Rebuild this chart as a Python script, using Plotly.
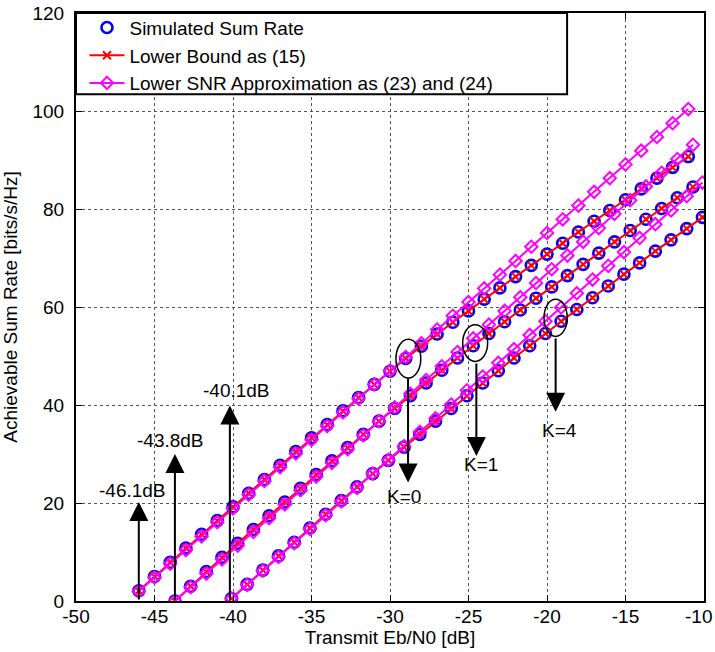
import plotly.graph_objects as go

# ---------------- data ----------------
x_k0 = [-46, -45, -44, -43, -42, -41, -40, -39, -38, -37, -36, -35, -34, -33, -32, -31, -30, -29,
        -28, -27, -26, -25, -24, -23, -22, -21, -20, -19, -18, -17, -16, -15, -14, -13, -12, -11]
sim_k0 = [2.1, 5.0, 7.9, 10.8, 13.6, 16.4, 19.2, 22.0, 24.8, 27.7, 30.5, 33.3, 36.0, 38.8, 41.5, 44.2,
          46.9, 49.5, 52.0, 54.5, 56.9, 59.2, 61.6, 63.9, 66.2, 68.5, 70.8, 73.0, 75.3, 77.5, 79.7,
          81.9, 84.1, 86.3, 88.5, 90.7]
lb_k0 = [2.1, 5.0, 7.9, 10.8, 13.6, 16.4, 19.2, 22.0, 24.8, 27.7, 30.5, 33.3, 36.0, 38.8, 41.5, 44.2,
         46.9, 49.5, 52.0, 54.5, 56.9, 59.2, 61.6, 63.9, 66.2, 68.5, 70.8, 73.0, 75.3, 77.5, 79.7,
         81.9, 84.1, 86.3, 88.5, 90.7]
apx_k0 = [2.0, 4.8, 7.6, 10.4, 13.2, 16.1, 18.9, 21.7, 24.5, 27.3, 30.1, 32.9, 35.7, 38.5, 41.3, 44.2,
          47.0, 49.8, 52.6, 55.4, 58.2, 61.0, 63.8, 66.6, 69.4, 72.3, 75.1, 77.9, 80.7, 83.5, 86.3,
          89.1, 91.9, 94.7, 97.5, 100.4]

x_k1 = [-43.7, -42.7, -41.7, -40.7, -39.7, -38.7, -37.7, -36.7, -35.7, -34.7, -33.7, -32.7, -31.7,
        -30.7, -29.7, -28.7, -27.7, -26.7, -25.7, -24.7, -23.7, -22.7, -21.7, -20.7, -19.7, -18.7,
        -17.7, -16.7, -15.7, -14.7, -13.7, -12.7, -11.7, -10.7]
sim_k1 = [0.0, 3.0, 6.0, 8.9, 11.8, 14.6, 17.4, 20.2, 23.0, 25.8, 28.6, 31.3, 34.0, 36.7, 39.3, 41.9,
          44.5, 47.1, 49.6, 52.1, 54.6, 57.0, 59.4, 61.8, 64.1, 66.4, 68.7, 71.0, 73.3, 75.6, 77.9,
          80.1, 82.3, 84.5]
lb_k1 = [0.0, 3.0, 6.0, 8.9, 11.8, 14.6, 17.4, 20.2, 23.0, 25.8, 28.6, 31.3, 34.0, 36.7, 39.3, 41.9,
         44.5, 47.1, 49.6, 52.1, 54.6, 57.0, 59.4, 61.8, 64.1, 66.4, 68.7, 71.0, 73.3, 75.6, 77.9,
         80.1, 82.3, 84.5]
apx_k1 = [0.0, 2.8, 5.6, 8.5, 11.3, 14.1, 16.9, 19.7, 22.6, 25.4, 28.2, 31.0, 33.8, 36.7, 39.5, 42.3,
          45.1, 47.9, 50.8, 53.6, 56.4, 59.2, 62.0, 64.9, 67.7, 70.5, 73.3, 76.1, 79.0, 81.8, 84.6,
          87.4, 90.2, 93.1]

x_k4 = [-40.1, -39.1, -38.1, -37.1, -36.1, -35.1, -34.1, -33.1, -32.1, -31.1, -30.1, -29.1, -28.1,
        -27.1, -26.1, -25.1, -24.1, -23.1, -22.1, -21.1, -20.1, -19.1, -18.1, -17.1, -16.1, -15.1,
        -14.1, -13.1, -12.1, -11.1, -10.1]
sim_k4 = [0.5, 3.4, 6.3, 9.2, 12.0, 14.9, 17.7, 20.5, 23.3, 26.0, 28.7, 31.4, 34.0, 36.7, 39.3, 41.9,
          44.5, 47.0, 49.6, 52.1, 54.6, 57.1, 59.5, 61.9, 64.3, 66.7, 69.0, 71.4, 73.7, 76.0, 78.3]
lb_k4 = [0.5, 3.4, 6.3, 9.2, 12.0, 14.9, 17.7, 20.5, 23.3, 26.0, 28.7, 31.4, 34.0, 36.7, 39.3, 41.9,
         44.5, 47.0, 49.6, 52.1, 54.6, 57.1, 59.5, 61.9, 64.3, 66.7, 69.0, 71.4, 73.7, 76.0, 78.3]
apx_k4 = [0.5, 3.3, 6.2, 9.0, 11.8, 14.7, 17.5, 20.3, 23.1, 26.0, 28.8, 31.6, 34.5, 37.3, 40.1, 43.0,
          45.8, 48.6, 51.4, 54.3, 57.1, 59.9, 62.8, 65.6, 68.4, 71.2, 74.1, 76.9, 79.7, 82.6, 85.4]

legend_names = ["Simulated Sum Rate", "Lower Bound as (15)", "Lower SNR Approximation as (23) and (24)"]

x_ticks = [-50, -45, -40, -35, -30, -25, -20, -15, -10]
# the last label gets trailing no-break spaces so it sits just inside the right edge (as in the reference)
x_ticktext = ["-50", "-45", "-40", "-35", "-30", "-25", "-20", "-15", "-10\u00a0\u00a0"]
y_ticks = [0, 20, 40, 60, 80, 100, 120]

# minimum Eb/N0 annotations: (label, arrow x, arrow top, label x, label y)
min_ebn0 = [("-46.1dB", -46.0, 20.2, -46.4, 22.5),
            ("-43.8dB", -43.7, 30.0, -44.0, 32.7),
            ("-40.1dB", -40.2, 39.9, -39.8, 42.9)]
# K annotations: (label, arrow x, arrow top, arrow bottom, label x, label y, ellipse x0, x1, y0, y1)
k_marks = [("K=0", -28.85, 45.7, 24.2, -29.1, 21.3, -29.62, -28.04, 45.5, 53.4),
           ("K=1", -24.5, 48.8, 29.6, -24.2, 27.8, -25.37, -23.78, 48.9, 56.4),
           ("K=4", -19.45, 53.9, 38.6, -19.2, 34.7, -20.19, -18.71, 54.0, 61.6)]

FONT = "Liberation Sans, Arial, sans-serif"
BLUE, RED, MAG = "#0000FF", "#FF0000", "#FF00FF"

fig = go.Figure()
series = [(x_k0, sim_k0, lb_k0, apx_k0), (x_k1, sim_k1, lb_k1, apx_k1), (x_k4, sim_k4, lb_k4, apx_k4)]
for i, (xs, sim, lb, apx) in enumerate(series):
    first = i == 0
    fig.add_trace(go.Scatter(x=xs, y=sim, mode="markers", name=legend_names[0], showlegend=first,
                             legendrank=1,
                             marker=dict(symbol="circle-open", size=11, color=BLUE, line=dict(width=2.6, color=BLUE))))
    fig.add_trace(go.Scatter(x=xs, y=lb, mode="lines+markers", name=legend_names[1], showlegend=first,
                             legendrank=2,
                             line=dict(color=RED, width=2),
                             marker=dict(symbol="x-thin-open", size=8, color=RED, line=dict(width=2, color=RED))))
    fig.add_trace(go.Scatter(x=xs, y=apx, mode="lines+markers", name=legend_names[2], showlegend=first,
                             legendrank=3,
                             line=dict(color=MAG, width=2),
                             marker=dict(symbol="diamond-open", size=9.5, color=MAG, line=dict(width=2, color=MAG))))

annotations = []
shapes = []
for lab, ax_x, top, lx, ly in min_ebn0:
    annotations.append(dict(x=ax_x, y=top, ax=ax_x, ay=0, xref="x", yref="y", axref="x", ayref="y",
                            text="", showarrow=True, arrowhead=2, arrowsize=1.9, arrowwidth=2,
                            arrowcolor="black", standoff=0))
    annotations.append(dict(x=lx, y=ly, xref="x", yref="y", text=lab, showarrow=False,
                            font=dict(family=FONT, size=19, color="black")))
for lab, ax_x, top, bot, lx, ly, ex0, ex1, ey0, ey1 in k_marks:
    annotations.append(dict(x=ax_x, y=bot, ax=ax_x, ay=top, xref="x", yref="y", axref="x", ayref="y",
                            text="", showarrow=True, arrowhead=2, arrowsize=1.9, arrowwidth=2,
                            arrowcolor="black", standoff=0))
    annotations.append(dict(x=lx, y=ly, xref="x", yref="y", text=lab, showarrow=False,
                            font=dict(family=FONT, size=19, color="black")))
    shapes.append(dict(type="circle", xref="x", yref="y", x0=ex0, x1=ex1, y0=ey0, y1=ey1,
                       line=dict(color="black", width=1.5), layer="above"))

# legend box
shapes.append(dict(type="rect", xref="paper", yref="paper", x0=0, x1=0.782, y0=0.862, y1=1,
                   line=dict(color="black", width=2), fillcolor="white", layer="above"))

axis_common = dict(showline=True, linecolor="black", linewidth=2, mirror="ticks",
                   ticks="inside", ticklen=6, tickwidth=1, tickcolor="black",
                   showgrid=True, gridcolor="#555555", gridwidth=1, griddash="dot",
                   zeroline=False, automargin=False, ticklabeloverflow="allow",
                   tickfont=dict(family=FONT, size=19, color="black"))

fig.update_layout(
    width=715, height=652,
    margin=dict(l=76, r=11, t=13, b=51, autoexpand=False),
    paper_bgcolor="white", plot_bgcolor="white",
    font=dict(family=FONT, color="black"),
    xaxis=dict(range=[-50, -10], tickvals=x_ticks, ticktext=x_ticktext,
               title=dict(text="Transmit Eb/N0 [dB]", font=dict(family=FONT, size=19), standoff=0),
               ticklabelstandoff=-3,
               **axis_common),
    yaxis=dict(range=[0, 120], tickvals=y_ticks, ticktext=[str(v) for v in y_ticks],
               ticklabelstandoff=6,
               title=dict(text="Achievable Sum Rate [bits/s/Hz]", font=dict(family=FONT, size=19), standoff=14),
               **axis_common),
    legend=dict(x=0.0135, y=1.0074, xanchor="left", yanchor="top", bgcolor="rgba(0,0,0,0)",
                borderwidth=0, font=dict(family=FONT, size=19, color="black"),
                itemwidth=35, tracegroupgap=0, traceorder="normal"),
    annotations=annotations,
    shapes=shapes,
    showlegend=True,
)

# remove the default page margin so the 715x652 figure fills the window exactly
fig.write_html("out.html",
               config={"displayModeBar": False},
               post_script="document.body.style.margin='0px';"
                           "document.documentElement.style.overflow='hidden';")
